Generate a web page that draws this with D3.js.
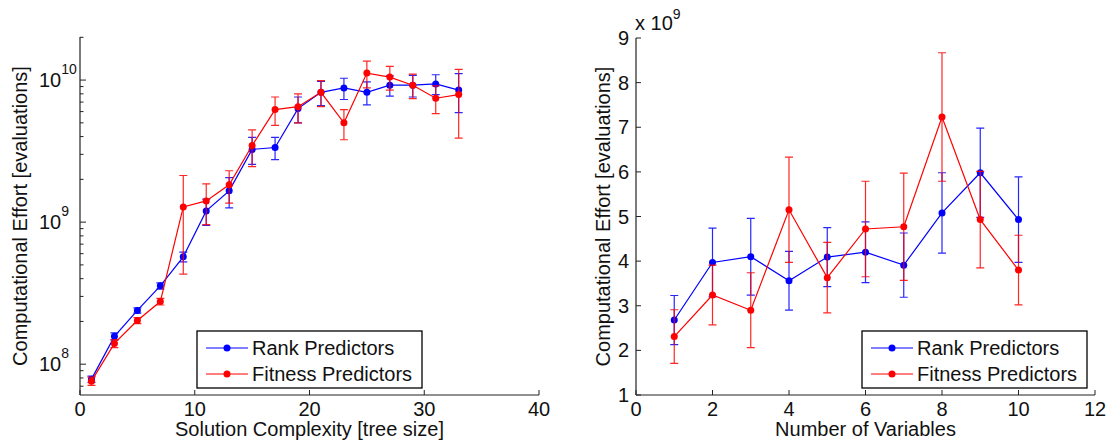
<!DOCTYPE html>
<html>
<head>
<meta charset="utf-8">
<script src="https://cdn.jsdelivr.net/npm/d3@7"></script>
<style>
  body { margin: 0; background: #fff; }
  svg { display: block; font-family: "Liberation Sans", Arial, sans-serif; }
</style>
</head>
<body>
<svg id="chart" width="1111" height="446"></svg>
<script>
// ---- data ----
var seriesNames = ["Rank Predictors", "Fitness Predictors"];
var seriesColors = ["#0000ff", "#ff0000"];

// left panel: tree size vs effort (log scale)
var treeSize = [1, 3, 5, 7, 9, 11, 13, 15, 17, 19, 21, 23, 25, 27, 29, 31, 33];
var rankEffort = [7.85e7, 1.57e8, 2.39e8, 3.56e8, 5.7e8, 1.2e9, 1.66e9, 3.25e9, 3.35e9, 6.3e9, 8.2e9, 8.8e9, 8.2e9, 9.2e9, 9.2e9, 9.4e9, 8.5e9];
var rankEffortErr = [0.4e7, 0.9e7, 1.0e7, 1.8e7, 0.45e8, 0.25e9, 0.4e9, 0.7e9, 0.6e9, 1.3e9, 1.6e9, 1.5e9, 1.5e9, 1.5e9, 1.6e9, 1.5e9, 2.6e9];
var fitEffort = [7.6e7, 1.4e8, 2.03e8, 2.76e8, 1.28e9, 1.41e9, 1.83e9, 3.46e9, 6.2e9, 6.5e9, 8.2e9, 5.0e9, 1.12e10, 1.05e10, 9.2e9, 7.45e9, 7.9e9];
var fitEffortErr = [0.5e7, 0.9e7, 1.0e7, 1.5e7, 0.85e9, 0.45e9, 0.47e9, 1.0e9, 1.4e9, 1.5e9, 1.7e9, 1.2e9, 2.4e9, 2.0e9, 1.8e9, 1.65e9, 4.0e9];
var leftXTicks = [0, 10, 20, 30, 40];
var leftYTicks = [1e8, 1e9, 1e10];

// right panel: number of variables vs effort (x 10^9)
var numVars = [1, 2, 3, 4, 5, 6, 7, 8, 9, 10];
var rankVars = [2.68, 3.97, 4.10, 3.56, 4.09, 4.20, 3.91, 5.08, 5.98, 4.93];
var rankVarsErr = [0.55, 0.77, 0.86, 0.66, 0.66, 0.68, 0.72, 0.90, 1.00, 0.96];
var fitVars = [2.31, 3.24, 2.90, 5.15, 3.63, 4.72, 4.77, 7.23, 4.93, 3.80];
var fitVarsErr = [0.60, 0.67, 0.84, 1.18, 0.79, 1.07, 1.20, 1.44, 1.08, 0.78];
var rightXTicks = [0, 2, 4, 6, 8, 10, 12];
var rightYTicks = [1, 2, 3, 4, 5, 6, 7, 8, 9];

var svg = d3.select("#chart");
var axisColor = "#222";
var fontSize = 20;
var supSize = 14;

function drawPanel(cfg) {
  var g = svg.append("g");
  var x = cfg.x, y = cfg.y;
  var x0 = x.range()[0], x1 = x.range()[1];
  var yb = y.range()[0], yt = y.range()[1];

  // axis lines (box off)
  g.append("line").attr("x1", x0).attr("x2", x0).attr("y1", yt).attr("y2", yb)
    .attr("stroke", axisColor).attr("stroke-width", 1.2);
  g.append("line").attr("x1", x0).attr("x2", x1).attr("y1", yb).attr("y2", yb)
    .attr("stroke", axisColor).attr("stroke-width", 1.2);

  // x ticks (inward)
  g.selectAll(".xt").data(cfg.xTicks).enter().append("line")
    .attr("x1", d => x(d)).attr("x2", d => x(d))
    .attr("y1", yb).attr("y2", yb - 5)
    .attr("stroke", axisColor).attr("stroke-width", 1);
  g.selectAll(".xl").data(cfg.xTicks).enter().append("text")
    .attr("x", d => x(d)).attr("y", yb + 21)
    .attr("text-anchor", "middle").attr("font-size", fontSize).attr("fill", "#111")
    .text(d => d);

  // y ticks
  if (cfg.log) {
    var minor = [];
    for (var e = 7; e <= 10; e++) {
      for (var m = 1; m <= 9; m++) {
        var v = m * Math.pow(10, e);
        if (v >= y.domain()[0] && v <= y.domain()[1]) minor.push({ v: v, major: m === 1 });
      }
    }
    g.selectAll(".yt").data(minor).enter().append("line")
      .attr("x1", x0).attr("x2", d => x0 + (d.major ? 6 : 3.5))
      .attr("y1", d => y(d.v)).attr("y2", d => y(d.v))
      .attr("stroke", axisColor).attr("stroke-width", 1);
    var lab = g.selectAll(".yl").data(cfg.yTicks).enter().append("text")
      .attr("x", x0 - 41).attr("y", d => y(d) + 7)
      .attr("font-size", fontSize).attr("fill", "#111");
    lab.append("tspan").text("10");
    lab.append("tspan").attr("font-size", supSize).attr("dy", -13)
      .text(d => Math.round(Math.log10(d)));
  } else {
    g.selectAll(".yt").data(cfg.yTicks).enter().append("line")
      .attr("x1", x0).attr("x2", x0 + 5)
      .attr("y1", d => y(d)).attr("y2", d => y(d))
      .attr("stroke", axisColor).attr("stroke-width", 1);
    g.selectAll(".yl").data(cfg.yTicks).enter().append("text")
      .attr("x", x0 - 7).attr("y", d => y(d) + 7)
      .attr("text-anchor", "end").attr("font-size", fontSize).attr("fill", "#111")
      .text(d => d);
    var mult = g.append("text").attr("x", x0 - 1).attr("y", yt - 8)
      .attr("font-size", fontSize).attr("fill", "#111");
    mult.append("tspan").text("x 10");
    mult.append("tspan").attr("font-size", supSize).attr("dy", -11).text(cfg.exponent);
  }

  // axis titles
  g.append("text").attr("x", (x0 + x1) / 2).attr("y", yb + 41)
    .attr("text-anchor", "middle").attr("font-size", fontSize).attr("fill", "#111")
    .text(cfg.xTitle);
  g.append("text")
    .attr("transform", "translate(" + (x0 - cfg.yTitleOffset) + "," + ((yt + yb) / 2) + ") rotate(-90)")
    .attr("text-anchor", "middle").attr("font-size", fontSize).attr("fill", "#111")
    .text(cfg.yTitle);

  // series
  var line = d3.line().x(d => x(d.x)).y(d => y(d.y));
  cfg.series.forEach(function (s, i) {
    var pts = s.xs.map((xv, k) => ({ x: xv, y: s.ys[k], e: s.errs[k] }));
    var sg = g.append("g");
    sg.selectAll(".eb").data(pts).enter().append("path")
      .attr("d", function (d) {
        var px = x(d.x), lo = y(d.y - d.e), hi = y(d.y + d.e);
        return "M" + px + "," + lo + "V" + hi +
          "M" + (px - 4) + "," + hi + "H" + (px + 4) +
          "M" + (px - 4) + "," + lo + "H" + (px + 4);
      })
      .attr("stroke", seriesColors[i]).attr("stroke-width", 1.2).attr("fill", "none")
      .attr("opacity", 0.85);
    sg.append("path").attr("d", line(pts))
      .attr("stroke", seriesColors[i]).attr("stroke-width", 1.2).attr("fill", "none");
    sg.selectAll(".pt").data(pts).enter().append("circle")
      .attr("cx", d => x(d.x)).attr("cy", d => y(d.y)).attr("r", 3.5)
      .attr("fill", seriesColors[i]);
  });

  // legend
  var L = cfg.legend;
  var lg = g.append("g");
  lg.append("rect").attr("x", L.x).attr("y", L.y).attr("width", L.w).attr("height", L.h)
    .attr("fill", "#fff").attr("stroke", "#000").attr("stroke-width", 1.3);
  seriesNames.forEach(function (name, i) {
    var cy = L.y + 17 + i * 26;
    lg.append("line").attr("x1", L.x + 9).attr("x2", L.x + 51).attr("y1", cy).attr("y2", cy)
      .attr("stroke", seriesColors[i]).attr("stroke-width", 1.2);
    lg.append("circle").attr("cx", L.x + 30).attr("cy", cy).attr("r", 3.5).attr("fill", seriesColors[i]);
    lg.append("text").attr("x", L.x + 55).attr("y", cy + 7)
      .attr("font-size", fontSize).attr("fill", "#111").text(name);
  });
}

drawPanel({
  x: d3.scaleLinear().domain([0, 40]).range([80, 539]),
  y: d3.scaleLog().domain([6.07e7, 2.01e10]).range([395, 37]),
  log: true,
  xTicks: leftXTicks,
  yTicks: leftYTicks,
  xTitle: "Solution Complexity [tree size]",
  yTitle: "Computational Effort [evaluations]",
  yTitleOffset: 53,
  series: [
    { xs: treeSize, ys: rankEffort, errs: rankEffortErr },
    { xs: treeSize, ys: fitEffort, errs: fitEffortErr }
  ],
  legend: { x: 197, y: 331, w: 225, h: 57 }
});

drawPanel({
  x: d3.scaleLinear().domain([0, 12]).range([636, 1095]),
  y: d3.scaleLinear().domain([1, 9]).range([395, 38]),
  log: false,
  exponent: "9",
  xTicks: rightXTicks,
  yTicks: rightYTicks,
  xTitle: "Number of Variables",
  yTitle: "Computational Effort [evaluations]",
  yTitleOffset: 26,
  series: [
    { xs: numVars, ys: rankVars, errs: rankVarsErr },
    { xs: numVars, ys: fitVars, errs: fitVarsErr }
  ],
  legend: { x: 862, y: 331, w: 225, h: 57 }
});
</script>
</body>
</html>
